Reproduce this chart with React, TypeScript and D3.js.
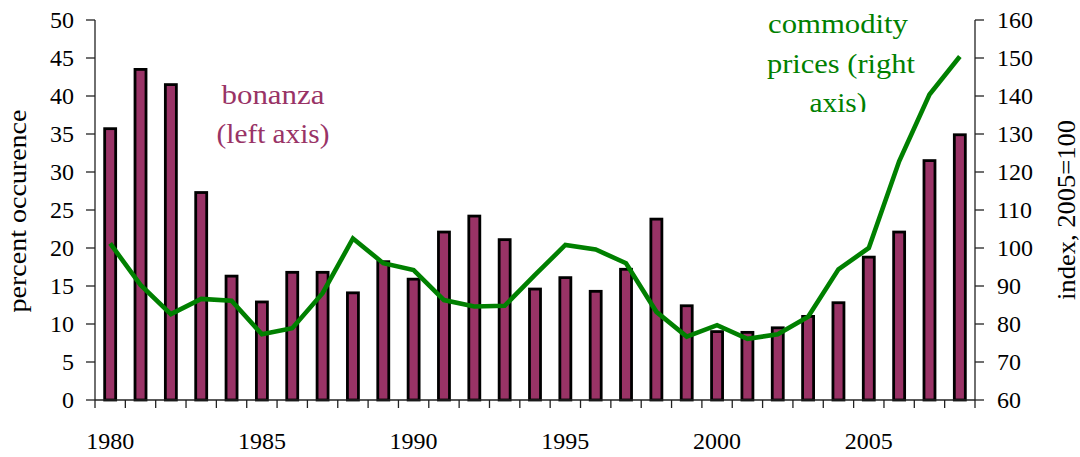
import React from "react";
import * as d3 from "d3";

const years: number[] = d3.range(1980, 2009);
const bonanza: number[] = [
  35.7, 43.5, 41.5, 27.3, 16.3, 12.9, 16.8, 16.8, 14.1, 18.2,
  15.9, 22.1, 24.2, 21.1, 14.6, 16.1, 14.3, 17.2, 23.8, 12.4,
  9.0, 8.9, 9.5, 11.0, 12.8, 18.8, 22.1, 31.5, 34.9,
];
const commodity: number[] = [
  101.2, 90.3, 82.6, 86.6, 86.1, 77.3, 78.9, 88.1, 102.5, 96.0,
  94.2, 86.3, 84.6, 84.8, 92.9, 100.8, 99.6, 96.0, 83.2, 76.7,
  79.7, 76.1, 77.3, 81.9, 94.4, 100.0, 122.8, 140.4, 150.4,
];
const leftTicks: number[] = [0, 5, 10, 15, 20, 25, 30, 35, 40, 45, 50];
const rightTicks: number[] = [60, 70, 80, 90, 100, 110, 120, 130, 140, 150, 160];
const yearLabels: number[] = [1980, 1985, 1990, 1995, 2000, 2005];

const W = 1080;
const H = 457;
const X0 = 95;
const X1 = 975;
const Y0 = 400;
const Y1 = 20;
const FONT = "'Liberation Serif', 'Times New Roman', serif";
const PLUM = "#993366";
const GREEN = "#008000";

export default function App() {
  const x = d3.scaleBand<number>().domain(years).range([X0, X1]).padding(0);
  const yL = d3.scaleLinear().domain([0, 50]).range([Y0, Y1]);
  const yR = d3.scaleLinear().domain([60, 160]).range([Y0, Y1]);
  const bw = 11;
  const cx = (yr: number) => (x(yr) as number) + x.bandwidth() / 2;
  const line = d3
    .line<number>()
    .x((_, i) => cx(years[i]))
    .y((d) => yR(d));
  const boundaries = d3.range(0, years.length + 1).map((i) => X0 + i * x.bandwidth());
  const axisColor = "#222";

  return (
    <svg
      width={W}
      height={H}
      style={{ position: "absolute", left: 0, top: 0, background: "#fff" }}
      fontFamily={FONT}
    >
      <defs>
        <clipPath id="labclip">
          <rect x={700} y={0} width={270} height={112} />
        </clipPath>
      </defs>
      {/* bars */}
      {bonanza.map((v, i) => (
        <rect
          key={years[i]}
          x={cx(years[i]) - bw / 2}
          y={yL(v)}
          width={bw}
          height={Y0 - yL(v)}
          fill={PLUM}
          stroke="#000"
          strokeWidth={2.8}
        />
      ))}
      {/* line */}
      <path
        d={line(commodity) || ""}
        fill="none"
        stroke={GREEN}
        strokeWidth={4.6}
        strokeLinejoin="miter"
      />
      {/* left axis */}
      <line x1={X0} x2={X0} y1={Y1} y2={Y0} stroke={axisColor} strokeWidth={1.3} />
      {leftTicks.map((t) => (
        <g key={"l" + t}>
          <line x1={X0 - 9} x2={X0} y1={yL(t)} y2={yL(t)} stroke={axisColor} strokeWidth={1.3} />
          <text x={74} y={yL(t)} dy="0.35em" textAnchor="end" fontSize={24} fill="#000">
            {t}
          </text>
        </g>
      ))}
      {/* right axis */}
      <line x1={X1} x2={X1} y1={Y1} y2={Y0} stroke={axisColor} strokeWidth={1.3} />
      {rightTicks.map((t) => (
        <g key={"r" + t}>
          <line x1={X1} x2={X1 + 9} y1={yR(t)} y2={yR(t)} stroke={axisColor} strokeWidth={1.3} />
          <text x={997} y={yR(t)} dy="0.35em" textAnchor="start" fontSize={24} fill="#000">
            {t}
          </text>
        </g>
      ))}
      {/* x axis */}
      <line x1={X0} x2={X1} y1={Y0} y2={Y0} stroke={axisColor} strokeWidth={1.3} />
      {boundaries.map((bx, i) => (
        <line key={"b" + i} x1={bx} x2={bx} y1={Y0} y2={Y0 + 8} stroke={axisColor} strokeWidth={1.3} />
      ))}
      {yearLabels.map((yr) => (
        <text key={"y" + yr} x={cx(yr)} y={449} textAnchor="middle" fontSize={24} fill="#000">
          {yr}
        </text>
      ))}
      {/* axis titles */}
      <text
        transform="translate(26,211) rotate(-90)"
        textAnchor="middle"
        fontSize={25}
        textLength={203}
        lengthAdjust="spacingAndGlyphs"
        fill="#000"
      >
        percent occurence
      </text>
      <text
        transform="translate(1075,210) rotate(-90)"
        textAnchor="middle"
        fontSize={25}
        textLength={180}
        lengthAdjust="spacingAndGlyphs"
        fill="#000"
      >
        index, 2005=100
      </text>
      {/* series labels */}
      <text x={273} y={104} textAnchor="middle" fontSize={27} fill={PLUM} textLength={103} lengthAdjust="spacingAndGlyphs">
        bonanza
      </text>
      <text x={273} y={143} textAnchor="middle" fontSize={27} fill={PLUM} textLength={113} lengthAdjust="spacingAndGlyphs">
        (left axis)
      </text>
      <g clipPath="url(#labclip)">
        <text x={838} y={33} textAnchor="middle" fontSize={27} fill={GREEN} textLength={140} lengthAdjust="spacingAndGlyphs">
          commodity
        </text>
        <text x={841} y={72.5} textAnchor="middle" fontSize={27} fill={GREEN} textLength={148} lengthAdjust="spacingAndGlyphs">
          prices (right
        </text>
        <text x={838} y={112} textAnchor="middle" fontSize={27} fill={GREEN} textLength={57} lengthAdjust="spacingAndGlyphs">
          axis)
        </text>
      </g>
    </svg>
  );
}
